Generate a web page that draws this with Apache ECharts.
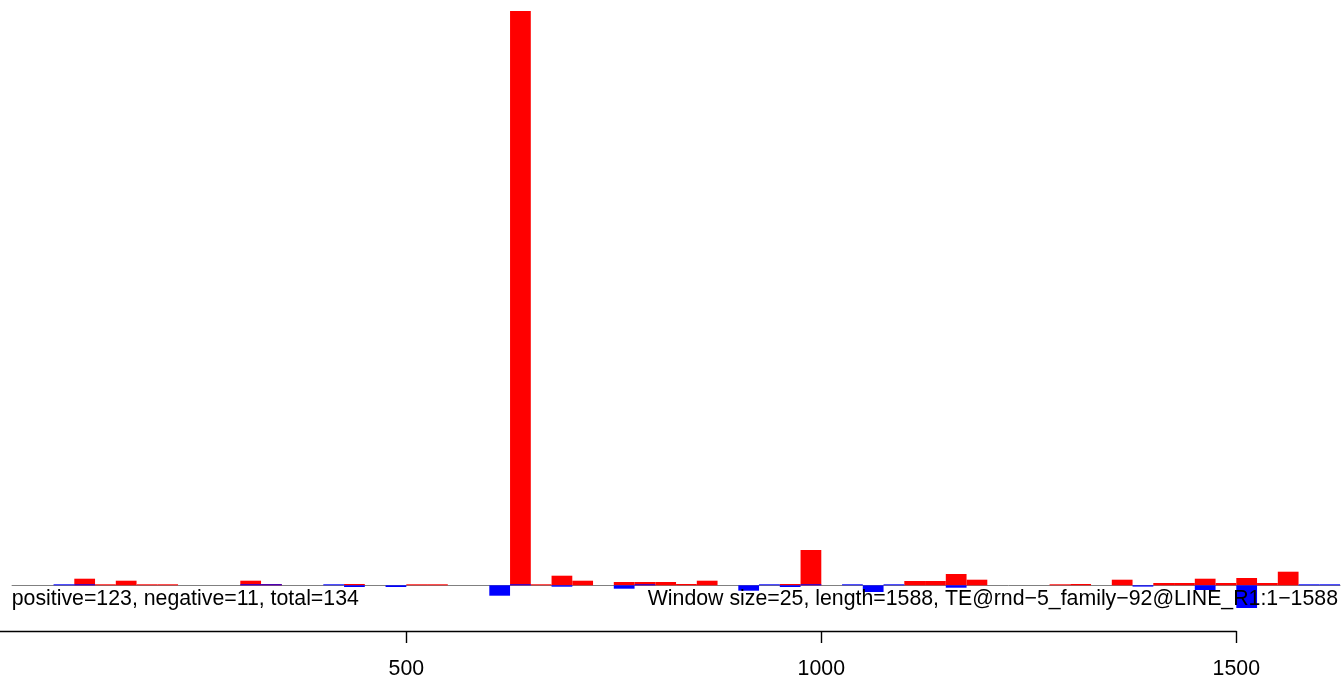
<!DOCTYPE html>
<html>
<head>
<meta charset="utf-8">
<script src="https://cdn.jsdelivr.net/npm/echarts@6/dist/echarts.min.js"></script>
<style>
html,body{margin:0;padding:0;background:#fff;}
#c{width:1343px;height:680px;}
</style>
</head>
<body>
<div id="c"></div>
<script>
// window size 25, windows k=0..64 (start = 25*k)
const windowSize = 25;
const windowStarts = [0,25,50,75,100,125,150,175,200,225,250,275,300,325,350,375,400,425,450,475,
  500,525,550,575,600,625,650,675,700,725,750,775,800,825,850,875,900,925,950,975,
  1000,1025,1050,1075,1100,1125,1150,1175,1200,1225,1250,1275,1300,1325,1350,1375,1400,1425,1450,1475,
  1500,1525,1550,1575,1600];
// positive (red) values per window; null = nothing drawn, 0 = zero-height bar
const positiveValues = [null,null,null,null,6.6,0,4.6,0,0,null,null,null,4.6,1.3,null,null,null,1.3,null,null,
  0,0,null,null,null,574.3,0,9.6,4.6,null,3.3,3.3,3.3,1.3,4.6,null,null,null,1.3,35.3,
  null,null,null,null,4.3,4.3,11.3,5.6,null,null,null,0,1.3,null,5.6,null,2.3,2.3,6.6,2.3,
  7.3,2.3,13.6,null,null];
// negative (blue) values per window
const negativeValues = [null,null,null,0,0,null,null,null,null,null,null,null,0,0,null,null,0,-1.7,null,-1.7,
  null,null,null,null,-10.4,0,null,-1.4,null,null,-3.4,0,null,null,null,null,-5.4,0,-1.7,0,
  null,0,-6.7,0,null,null,-2.4,null,null,null,null,null,null,null,null,-1.3,null,null,-4.7,null,
  -22.7,null,null,0,0];
const tickValues = [500,1000,1500];
const leftText = 'positive=123, negative=11, total=134';
const rightText = 'Window size=25, length=1588, TE@rnd\u22125_family\u221292@LINE_R1:1\u22121588';

const FONT = '"Liberation Sans", Arial, Helvetica, sans-serif';
const toPts = vals => windowStarts.map((s, i) => [s + windowSize / 2, vals[i] === null ? '-' : vals[i]]);

const SCALE = 0.83;         // px per position unit
const ORIGIN = -8.7;        // px where position 0 sits
const axisMin = -ORIGIN / SCALE;

const chart = echarts.init(document.getElementById('c'), null, {renderer: 'canvas'});
chart.setOption({
  animation: false,
  backgroundColor: '#ffffff',
  grid: [
    {left: ORIGIN + 25 * SCALE, width: 1600 * SCALE, top: 11, height: 600},
    {left: 0, width: (1500 - axisMin) * SCALE, top: 600, height: 32.5}
  ],
  xAxis: [
    {gridIndex: 0, type: 'value', min: 25, max: 1625,
     axisLine: {show: true, onZero: true, lineStyle: {color: '#808080', width: 1}},
     axisTick: {show: false}, axisLabel: {show: false}, splitLine: {show: false}},
    {gridIndex: 1, type: 'value', min: axisMin, max: tickValues[tickValues.length - 1],
     position: 'bottom',
     axisLine: {show: true, onZero: false, lineStyle: {color: '#000', width: 1.4}},
     axisTick: {show: true, inside: false, length: 12, customValues: tickValues, lineStyle: {color: '#000', width: 1.4}},
     axisLabel: {show: true, margin: 28, fontSize: 21.3, fontFamily: FONT, color: '#000',
                 customValues: tickValues, formatter: v => String(v)},
     splitLine: {show: false}}
  ],
  yAxis: [
    {gridIndex: 0, type: 'value', min: -25.7, max: 574.3, show: false, splitLine: {show: false}},
    {gridIndex: 1, type: 'value', show: false, splitLine: {show: false}}
  ],
  series: [
    {type: 'bar', xAxisIndex: 0, yAxisIndex: 0, data: toPts(positiveValues),
     barWidth: 25 * SCALE, barGap: '-100%', barMinHeight: 1,
     itemStyle: {color: '#ff0000'}},
    {type: 'bar', xAxisIndex: 0, yAxisIndex: 0, data: toPts(negativeValues),
     barWidth: 25 * SCALE, barGap: '-100%', barMinHeight: 1,
     itemStyle: {color: '#0000ff'}}
  ],
  graphic: [
    {type: 'text', z: 100, x: 11.7, y: 599.5,
     style: {text: leftText, font: '21.3px ' + FONT, fill: '#000', textAlign: 'left', textVerticalAlign: 'middle'}},
    {type: 'text', z: 100, x: 1338, y: 599.5,
     style: {text: rightText, font: '21.3px ' + FONT, fill: '#000', textAlign: 'right', textVerticalAlign: 'middle'}}
  ]
});
</script>
</body>
</html>
